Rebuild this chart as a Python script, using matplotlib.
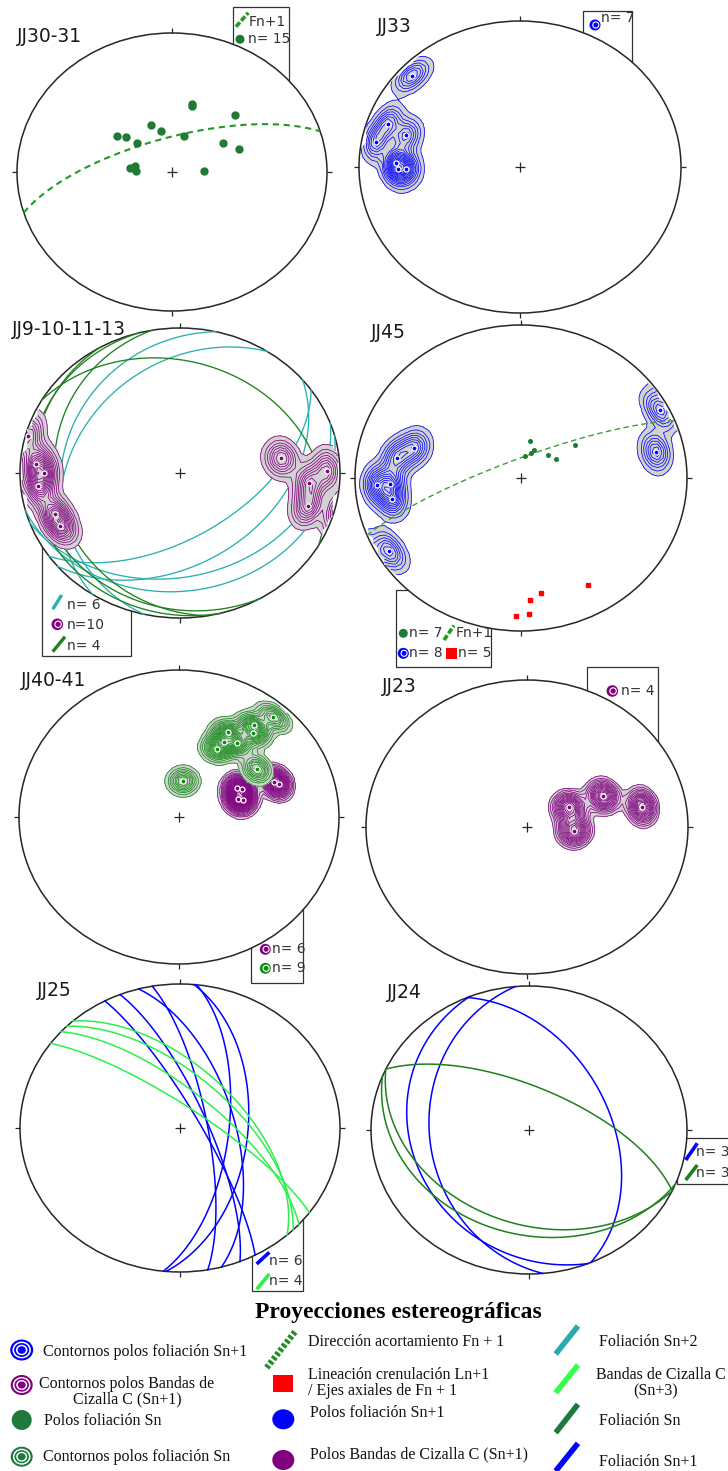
import numpy as np
import matplotlib
matplotlib.use("Agg")
import matplotlib.pyplot as plt
from matplotlib.patches import Ellipse, Rectangle, Circle

# ---------------------------------------------------------------
# Structural data (trend/plunge of poles and lineations,
# dip direction/dip of planes), lower hemisphere, equal area
# ---------------------------------------------------------------
# JJ30-31: poles to Sn + shortening direction Fn+1
jj3031_sn_trend = [15, 15, 45, 338, 347, 306, 310, 16, 313, 58, 69, 276, 280, 271, 88]
jj3031_sn_plunge = [49, 48, 42, 60, 65, 54, 58, 68, 65, 58, 52, 68, 70, 71, 73]
jj3031_fn1_plane = (343, 70)

# JJ33: poles to Sn+1
jj33_sn1_trend = [313, 290, 287, 281, 272, 269, 269]
jj33_sn1_plunge = [9, 14, 27, 10, 24, 25, 30]

# JJ9-10-11-13: poles to C shear bands, Sn+2 and Sn planes
jj9_c_trend = [285, 274, 270, 264, 250, 244, 81, 89, 95, 106]
jj9_c_plunge = [2, 11, 16, 12, 18, 18, 36, 9, 20, 18]
jj9_sn2_dipdir = [283, 303, 145, 140, 165, 160]
jj9_sn2_dip = [27, 33, 55, 40, 20, 30]
jj9_sn_dipdir = [30, 260, 255, 240]
jj9_sn_dip = [26, 23, 8, 12]

# JJ45: poles to Sn+1, poles to Sn, Ln+1 lineations, Fn+1
jj45_sn1_trend = [287, 280, 267, 267, 260, 239, 62, 78]
jj45_sn1_plunge = [33, 25, 14, 22, 22, 8, 6, 18]
jj45_sn_trend = [13, 24, 21, 9, 47, 59, 56]
jj45_sn_plunge = [70, 74, 76, 78, 72, 70, 58]
jj45_ln1_trend = [150, 171, 176, 182, 177]
jj45_ln1_plunge = [20, 25, 21, 11, 12]
jj45_fn1_plane = (338, 80)

# JJ40-41: poles to Sn and to C shear bands
jj4041_sn_trend = [41, 37, 39, 28, 29, 36, 27, 56, 6]
jj4041_sn_plunge = [11, 23, 27, 35, 41, 38, 47, 41, 70]
jj4041_c_trend = [62, 74, 70, 64, 72, 68]
jj4041_c_plunge = [56, 56, 34, 54, 58, 36]

# JJ23: poles to C shear bands
jj23_c_trend = [63, 66, 79, 95]
jj23_c_plunge = [66, 47, 28, 66]

# JJ25: Sn+1 planes and C shear bands (Sn+3)
jj25_sn1_dipdir = [62, 68, 75, 80, 95, 96]
jj25_sn1_dip = [80, 76, 62, 76, 55, 65]
jj25_c_dipdir = [36, 42, 45, 48]
jj25_c_dip = [78, 70, 62, 58]

# JJ24: Sn+1 and Sn planes
jj24_sn1_dipdir = [265, 248, 67]
jj24_sn1_dip = [37, 26, 47]
jj24_sn_dipdir = [25, 205, 202]
jj24_sn_dip = [66, 36, 29]

# colours
C_BLUE = "#0000ff"
C_PURPLE = "#800080"
C_GREEN_PT = "#1f7a35"
C_GREEN_CT = "#0f8a12"
C_GREEN_GC = "#1f801f"
C_DASH = "#1f9c1f"
C_TEAL = "#2ab0b0"
C_LIME = "#2cf04c"
C_RED = "#ff0000"
C_FILL = "#d2d2d2"

W, H = 728, 1471
fig = plt.figure(figsize=(W / 100, H / 100), dpi=100)
bg = fig.add_axes([0, 0, 1, 1])
bg.set_xlim(0, W)
bg.set_ylim(H, 0)
bg.axis("off")
bg.set_zorder(0)


# ---------------------------------------------------------------
# projection helpers
# ---------------------------------------------------------------
def to_xy(trend, plunge):
    t = np.radians(np.asarray(trend, float))
    p = np.radians(np.asarray(plunge, float))
    r = np.sqrt(2) * np.sin((np.pi / 2 - p) / 2)
    return r * np.sin(t), r * np.cos(t)


def plane_xy(dd, dip, n=241):
    d = np.radians(dd)
    a = np.radians(dip)
    s = np.array([np.sin(d - np.pi / 2), np.cos(d - np.pi / 2), 0.0])
    v = np.array([np.cos(a) * np.sin(d), np.cos(a) * np.cos(d), np.sin(a)])
    phi = np.linspace(0, np.pi, n)
    u = np.outer(np.cos(phi), s) + np.outer(np.sin(phi), v)
    plunge = np.degrees(np.arcsin(np.clip(u[:, 2], 0, 1)))
    trend = np.degrees(np.arctan2(u[:, 0], u[:, 1]))
    return to_xy(trend, plunge)


def unit_vectors(trend, plunge):
    t = np.radians(np.asarray(trend, float))
    p = np.radians(np.asarray(plunge, float))
    return np.stack([np.cos(p) * np.sin(t), np.cos(p) * np.cos(t), np.sin(p)], axis=-1)


GX, GY = np.meshgrid(np.linspace(-1.02, 1.02, 63), np.linspace(-1.02, 1.02, 63))
GR = np.hypot(GX, GY)
_colat = 2 * np.arcsin(np.clip(GR / np.sqrt(2), 0, 1))
_az = np.arctan2(GX, GY)
GV = np.stack([np.sin(_colat) * np.sin(_az), np.sin(_colat) * np.cos(_az), np.cos(_colat)], axis=-1)


def make_net(cx, cy, rx, ry, pad=1.3):
    ax = fig.add_axes([(cx - pad * rx) / W, 1 - (cy + pad * ry) / H,
                       2 * pad * rx / W, 2 * pad * ry / H])
    ax.set_xlim(-pad, pad)
    ax.set_ylim(-pad, pad)
    ax.axis("off")
    ax.set_zorder(1)
    ax.add_patch(Circle((0, 0), 1, facecolor="white", edgecolor="none", zorder=0.5))
    ax.add_patch(Circle((0, 0), 1, facecolor="none", edgecolor="#262626", lw=1.1, zorder=1.5))
    kw = dict(color="#262626", lw=0.9, zorder=1.5, solid_capstyle="butt")
    tx, ty = 5.0 / rx, 5.0 / ry
    ax.plot([0, 0], [1, 1 + ty], **kw)
    ax.plot([0, 0], [-1, -1 - ty], **kw)
    ax.plot([1, 1 + tx], [0, 0], **kw)
    ax.plot([-1, -1 - tx], [0, 0], **kw)
    ax.plot([-tx, tx], [0, 0], **kw)
    ax.plot([0, 0], [-ty, ty], **kw)
    return ax


def contour_poles(ax, trend, plunge, color, k, step=0.1, lo=0.1, z=2):
    pv = unit_vectors(trend, plunge)
    dots = np.abs(GV @ pv.T)
    dens = np.exp(k * (dots - 1)).sum(axis=-1)
    dens[GR > 1.0] = np.nan
    top = np.nanmax(dens)
    ax.contourf(GX, GY, dens, levels=[lo, top + 1], colors=[C_FILL], zorder=z)
    levels = np.arange(lo, top, step)
    ax.contour(GX, GY, dens, levels=levels, colors=color, linewidths=0.55, zorder=z + 0.1)
    x, y = to_xy(trend, plunge)
    ax.plot(x, y, "o", ms=3.6, mfc=color, mec="white", mew=0.9, zorder=z + 0.2, ls="none")


def great_circles(ax, dipdirs, dips, color, lw=0.95):
    for dd, dp in zip(dipdirs, dips):
        x, y = plane_xy(dd, dp)
        ax.plot(x, y, color=color, lw=lw, zorder=3)


def net_label(x, y, s):
    fig.text(x / W, 1 - y / H, s, fontsize=13.5, color="#1a1a1a", va="center", ha="left",
             family="DejaVu Sans", zorder=5)


# ---------------------------------------------------------------
# legend helpers (pixel coordinates on the background axes)
# ---------------------------------------------------------------
def box(x0, y0, x1, y1):
    bg.add_patch(Rectangle((x0, y0), x1 - x0, y1 - y0, facecolor="none",
                           edgecolor="#333333", lw=0.9))


def slash(x0, y0, x1, y1, color, lw=2.5, ls="-"):
    bg.plot([x0, x1], [y0, y1], color=color, lw=lw, ls=ls, solid_capstyle="butt",
            dash_capstyle="butt")


def ring_icon(x, y, color, w, h):
    for f, c in [(1.0, color), (0.8, "white"), (0.66, color), (0.5, "white"), (0.36, color)]:
        bg.add_patch(Ellipse((x, y), w * f, h * f, facecolor=c, edgecolor="none"))


def small_ring(x, y, color, r=5.5):
    bg.add_patch(Ellipse((x, y), 2 * r, 2 * r, facecolor=color, edgecolor="none"))
    bg.add_patch(Ellipse((x + 0.8, y), 1.1 * r, 1.1 * r, facecolor="none", edgecolor="white",
                         lw=0.8))


def dot(x, y, color, w, h):
    bg.add_patch(Ellipse((x, y), w, h, facecolor=color, edgecolor="none"))


def ntext(x, y, s, size=10):
    bg.text(x, y, s, fontsize=size, color="#333333", va="center", ha="left",
            family="DejaVu Sans")


# ---------------------------------------------------------------
# JJ30-31
# ---------------------------------------------------------------
box(233, 7, 289, 100)
slash(236, 26.7, 248.3, 12.7, C_DASH, lw=2.6, ls=(0, (1.6, 0.6)))
ntext(248.5, 21.7, "Fn+1")
dot(240, 39.3, C_GREEN_PT, 9, 9)
ntext(248, 39.3, "n= 15")
ax = make_net(172, 172, 155, 139)
x, y = plane_xy(*jj3031_fn1_plane)
ax.plot(x, y, color=C_DASH, lw=1.5, ls=(0, (3, 2.2)), zorder=3)
x, y = to_xy(jj3031_sn_trend, jj3031_sn_plunge)
ax.plot(x, y, "o", ms=5, color=C_GREEN_PT, ls="none", zorder=4)
net_label(17, 37, "JJ30-31")

# ---------------------------------------------------------------
# JJ33
# ---------------------------------------------------------------
box(583.3, 10.7, 631.7, 90)
small_ring(595, 25, C_BLUE, 5.5)
ntext(600.7, 18, "n= 7")
ax = make_net(520, 167, 161, 146)
contour_poles(ax, jj33_sn1_trend, jj33_sn1_plunge, C_BLUE, k=150, step=0.14)
net_label(376.7, 26, "JJ33")

# ---------------------------------------------------------------
# JJ9-10-11-13
# ---------------------------------------------------------------
box(42.3, 520, 131, 656)
slash(52.7, 609.3, 61.7, 595, C_TEAL, lw=2.4)
ntext(66.7, 605, "n= 6")
small_ring(57.3, 624.3, C_PURPLE, 5.8)
ntext(66.7, 625, "n=10")
slash(52.7, 651.7, 65, 636.7, C_GREEN_GC, lw=2.4)
ntext(66.7, 645.7, "n= 4")
ax = make_net(180, 473, 160, 145)
great_circles(ax, jj9_sn2_dipdir, jj9_sn2_dip, C_TEAL)
great_circles(ax, jj9_sn_dipdir, jj9_sn_dip, C_GREEN_GC)
contour_poles(ax, jj9_c_trend, jj9_c_plunge, C_PURPLE, k=120, step=0.12, z=4)
net_label(11.7, 329.5, "JJ9-10-11-13")

# ---------------------------------------------------------------
# JJ45
# ---------------------------------------------------------------
box(396.3, 590, 491.3, 667)
dot(403.3, 633.3, C_GREEN_PT, 9, 9)
ntext(409, 633.3, "n= 7")
slash(444, 640, 454, 625.5, C_DASH, lw=2.6, ls=(0, (1.6, 0.6)))
ntext(455.5, 633.3, "Fn+1")
small_ring(403.3, 653.3, C_BLUE, 5.5)
ntext(409, 653.3, "n= 8")
bg.add_patch(Rectangle((446, 647.5), 11, 11, facecolor=C_RED, edgecolor="none"))
ntext(458.5, 653.3, "n= 5")
ax = make_net(521, 478, 166, 153)
contour_poles(ax, jj45_sn1_trend, jj45_sn1_plunge, C_BLUE, k=140, step=0.13)
x, y = plane_xy(*jj45_fn1_plane)
ax.plot(x, y, color="#3a9e3a", lw=1.0, ls=(0, (4, 2.5)), zorder=5)
x, y = to_xy(jj45_sn_trend, jj45_sn_plunge)
ax.plot(x, y, "o", ms=2.6, color=C_GREEN_PT, ls="none", zorder=5)
x, y = to_xy(jj45_ln1_trend, jj45_ln1_plunge)
ax.plot(x, y, "s", ms=2.4, color=C_RED, ls="none", zorder=5)
net_label(370.7, 332, "JJ45")

# ---------------------------------------------------------------
# JJ40-41
# ---------------------------------------------------------------
box(250.7, 880, 302.7, 983)
small_ring(265.3, 949.3, C_PURPLE, 5.5)
ntext(271.5, 949.3, "n= 6")
small_ring(265.3, 968.3, C_GREEN_CT, 5.5)
ntext(271.5, 968.3, "n= 9")
ax = make_net(179, 817, 160, 147)
contour_poles(ax, jj4041_c_trend, jj4041_c_plunge, C_PURPLE, k=190, step=0.08, z=2)
contour_poles(ax, jj4041_sn_trend, jj4041_sn_plunge, C_GREEN_CT, k=190, step=0.1, z=3)
net_label(20.7, 680.5, "JJ40-41")

# ---------------------------------------------------------------
# JJ23
# ---------------------------------------------------------------
box(586.7, 666.7, 658, 760)
small_ring(612.3, 691, C_PURPLE, 5.8)
ntext(620.7, 691, "n= 4")
ax = make_net(527, 827, 161, 147)
contour_poles(ax, jj23_c_trend, jj23_c_plunge, C_PURPLE, k=140, step=0.06)
net_label(382, 686, "JJ23")

# ---------------------------------------------------------------
# JJ25
# ---------------------------------------------------------------
box(251.7, 1200, 302.7, 1291)
slash(256.7, 1264, 269.3, 1252.3, C_BLUE, lw=2.6)
ntext(269.3, 1260.7, "n= 6")
slash(256.7, 1289.3, 269.3, 1274, C_LIME, lw=2.6)
ntext(269.3, 1281, "n= 4")
ax = make_net(180, 1128, 160, 144)
great_circles(ax, jj25_sn1_dipdir, jj25_sn1_dip, C_BLUE, lw=1.1)
great_circles(ax, jj25_c_dipdir, jj25_c_dip, C_LIME, lw=1.1)
net_label(36.7, 990, "JJ25")

# ---------------------------------------------------------------
# JJ24
# ---------------------------------------------------------------
box(677, 1138.3, 745, 1184)
slash(685.7, 1160, 697.3, 1143.3, C_BLUE, lw=2.6)
ntext(696.5, 1152, "n= 3")
slash(685.7, 1180, 697.3, 1165, C_GREEN_GC, lw=2.6)
ntext(696.5, 1173, "n= 3")
ax = make_net(529, 1130, 158, 144)
great_circles(ax, jj24_sn1_dipdir, jj24_sn1_dip, C_BLUE, lw=1.1)
great_circles(ax, jj24_sn_dipdir, jj24_sn_dip, C_GREEN_GC, lw=1.1)
net_label(386.7, 992, "JJ24")

# ---------------------------------------------------------------
# Key
# ---------------------------------------------------------------
SERIF = ["Liberation Serif", "DejaVu Serif"]
bg.text(398.4, 1318, "Proyecciones estereográficas", fontsize=17, fontweight="bold",
        family=SERIF, ha="center", va="baseline", color="black")


def ktext(x, y, s, ha="left"):
    bg.text(x, y, s, fontsize=11.5, family=SERIF, ha=ha, va="center", color="#111111")


# column 1
ring_icon(21.7, 1350, C_BLUE, 23, 21)
ktext(43.3, 1351.7, "Contornos polos foliación Sn+1")
ring_icon(21.7, 1385, C_PURPLE, 22, 20)
ktext(127, 1383.5, "Contornos polos Bandas de", ha="center")
ktext(127, 1399, "Cizalla C (Sn+1)", ha="center")
dot(21.7, 1420, "#1e7a3c", 20, 20)
ktext(44.3, 1421, "Polos foliación Sn")
ring_icon(21.7, 1456.7, "#1e7a3c", 22, 20)
ktext(43.3, 1456.7, "Contornos polos foliación Sn")

# column 2
slash(266.7, 1367.7, 295, 1331.7, "#1f8f1f", lw=4.5, ls=(0, (0.5, 0.35)))
ktext(308.5, 1341.7, "Dirección acortamiento Fn + 1")
bg.add_patch(Rectangle((273.3, 1375), 20, 17, facecolor=C_RED, edgecolor="none"))
ktext(308.5, 1375, "Lineación crenulación Ln+1")
ktext(308.5, 1391, "/ Ejes axiales de Fn + 1")
dot(283.3, 1419.3, C_BLUE, 22, 20)
ktext(310, 1413.3, "Polos foliación Sn+1")
dot(283.3, 1460, C_PURPLE, 22, 20)
ktext(310, 1454.3, "Polos Bandas de Cizalla C (Sn+1)")

# column 3
slash(555.7, 1354, 578, 1326, "#2aabab", lw=4)
ktext(598.9, 1341.7, "Foliación Sn+2")
slash(555.7, 1392.7, 578, 1365, "#33ff4d", lw=4)
ktext(596, 1375, "Bandas de Cizalla C")
ktext(656, 1391, "(Sn+3)", ha="center")
slash(555.7, 1432.7, 578, 1404.3, "#1e7a3c", lw=4)
ktext(598.9, 1421, "Foliación Sn")
slash(555.7, 1471, 578, 1443.3, C_BLUE, lw=4)
ktext(598.9, 1461.7, "Foliación Sn+1")

fig.savefig("out.png", dpi=100, facecolor="white")
